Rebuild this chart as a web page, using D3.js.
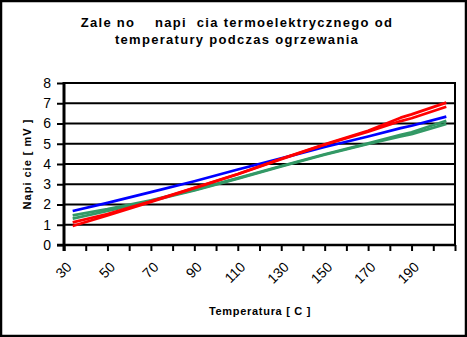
<!DOCTYPE html>
<html>
<head>
<meta charset="utf-8">
<script src="https://cdn.jsdelivr.net/npm/d3@7"></script>
<style>
  html, body { margin: 0; padding: 0; background: #fff; }
  svg { display: block; }
  text { font-family: "Liberation Sans", Arial, sans-serif; fill: #000; }
</style>
</head>
<body>
<svg id="chart" width="467" height="337"></svg>
<script>
// Temperatures [°C] at which the thermocouple voltage was read
const temps = [34, 50, 70, 90, 110, 130, 150, 170, 185, 190, 206];

// Thermoelectric voltage [mV] for each measurement series
const blueSeries   = [1.68, 2.08, 2.61, 3.15, 3.73, 4.28, 4.84, 5.36, 5.77, 5.89, 6.34];
const greenSeriesA = [1.46, 1.77, 2.21, 2.72, 3.30, 3.90, 4.48, 5.02, 5.44, 5.57, 6.14];
const greenSeriesB = [1.30, 1.68, 2.18, 2.70, 3.28, 3.88, 4.46, 4.99, 5.36, 5.47, 5.98];
const redSeriesA   = [1.12, 1.53, 2.16, 2.83, 3.51, 4.26, 4.97, 5.64, 6.29, 6.45, 7.03];
const redSeriesB   = [0.94, 1.46, 2.13, 2.81, 3.49, 4.24, 4.95, 5.60, 6.12, 6.26, 6.83];

// Axis ticks
const yTicks = [0, 1, 2, 3, 4, 5, 6, 7, 8];
const xTicks = d3.range(30, 211, 10);
const xLabels = [30, 50, 70, 90, 110, 130, 150, 170, 190];

const titleLines = ["Zale no    napi  cia termoelektrycznego od", "temperatury podczas ogrzewania"];
const yTitle = "Napi cie [ mV ]";
const xTitle = "Temperatura [ C ]";

const series = [
  { values: blueSeries,   color: "#0000ff" },
  { values: greenSeriesA, color: "#339966" },
  { values: greenSeriesB, color: "#339966" },
  { values: redSeriesA,   color: "#ff0000" },
  { values: redSeriesB,   color: "#ff0000" }
];

const svg = d3.select("#chart");
const W = 467, H = 337;
const plot = { left: 64, right: 455, top: 83, bottom: 245 };

const x = d3.scaleLinear().domain([30, 210]).range([plot.left, plot.right]);
const y = d3.scaleLinear().domain([0, 8]).range([plot.bottom, plot.top]);

// outer frame
svg.append("rect")
  .attr("x", 1).attr("y", 1).attr("width", W - 2).attr("height", H - 2)
  .attr("fill", "#fff").attr("stroke", "#000").attr("stroke-width", 2.5);

// title
svg.append("g").selectAll("text").data(titleLines).join("text")
  .attr("x", 237).attr("y", (d, i) => 27 + i * 17)
  .attr("text-anchor", "middle")
  .style("white-space", "pre")
  .attr("font-size", 13).attr("font-weight", "bold")
  .attr("letter-spacing", 1.3)
  .text(d => d);

// horizontal gridlines
svg.append("g").selectAll("line").data(yTicks.filter(v => v > 0)).join("line")
  .attr("x1", plot.left).attr("x2", plot.right)
  .attr("y1", d => y(d)).attr("y2", d => y(d))
  .attr("stroke", "#000").attr("stroke-width", 2);

// right border of plot area
svg.append("line")
  .attr("x1", plot.right).attr("x2", plot.right)
  .attr("y1", plot.top - 1).attr("y2", plot.bottom)
  .attr("stroke", "#000").attr("stroke-width", 2);

// y axis
const yAxis = d3.axisLeft(y).tickValues(yTicks).tickSize(7).tickPadding(6).tickFormat(d3.format("d"));
const gy = svg.append("g").attr("transform", `translate(${plot.left},0)`).call(yAxis);
gy.select(".domain").remove();
gy.selectAll(".tick line").attr("stroke", "#000").attr("stroke-width", 2);
gy.selectAll(".tick text").attr("font-size", 14).attr("font-family", "Liberation Sans, Arial, sans-serif").attr("fill", "#000");

// x axis
const xAxis = d3.axisBottom(x).tickValues(xTicks).tickSize(6)
  .tickFormat(d => xLabels.includes(d) ? d : "");
const gx = svg.append("g").attr("transform", `translate(0,${plot.bottom})`).call(xAxis);
gx.select(".domain").remove();
gx.selectAll(".tick line").attr("stroke", "#000").attr("stroke-width", 2);
gx.selectAll(".tick text")
  .attr("font-size", 14).attr("font-family", "Liberation Sans, Arial, sans-serif").attr("fill", "#000")
  .attr("text-anchor", "end")
  .attr("dy", null)
  .attr("y", 0)
  .attr("transform", "translate(8,23) rotate(-45)");

// axis lines
svg.append("line")
  .attr("x1", plot.left).attr("x2", plot.left)
  .attr("y1", plot.top - 1).attr("y2", plot.bottom + 6)
  .attr("stroke", "#000").attr("stroke-width", 3);
svg.append("line")
  .attr("x1", plot.left - 7).attr("x2", plot.right + 1)
  .attr("y1", plot.bottom).attr("y2", plot.bottom)
  .attr("stroke", "#000").attr("stroke-width", 2.5);

// data lines
const line = d3.line().x((d, i) => x(temps[i])).y(d => y(d));
svg.append("g").selectAll("path").data(series).join("path")
  .attr("d", d => line(d.values))
  .attr("fill", "none")
  .attr("stroke", d => d.color)
  .attr("stroke-width", 2.7)
  .attr("stroke-linejoin", "round");

// axis titles
svg.append("text")
  .attr("x", 260).attr("y", 315)
  .attr("text-anchor", "middle")
  .style("white-space", "pre")
  .attr("font-size", 11).attr("font-weight", "bold")
  .attr("letter-spacing", 0.7)
  .text(xTitle);

svg.append("text")
  .attr("transform", "translate(31,164) rotate(-90)")
  .attr("text-anchor", "middle")
  .style("white-space", "pre")
  .attr("font-size", 11).attr("font-weight", "bold")
  .attr("letter-spacing", 1)
  .text(yTitle);
</script>
</body>
</html>
